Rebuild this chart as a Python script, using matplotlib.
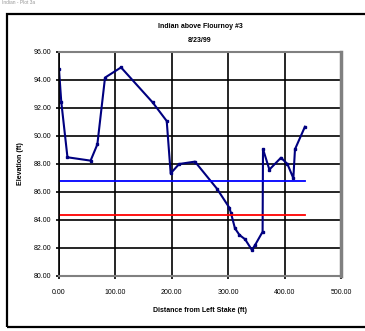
import matplotlib.pyplot as plt
from matplotlib.patches import Rectangle

# survey points: distance from left stake (ft) and elevation (ft)
distance = [0, 4, 15, 56, 68, 81.6, 110, 166, 191, 198, 213, 241, 280, 302,
            305, 312, 320, 330, 342, 347.5, 361, 361.7, 373, 393.6, 405,
            415.5, 418.4, 436]
elevation = [94.76, 92.45, 88.48, 88.24, 89.4, 94.17, 94.9, 92.4, 91.07,
             87.33, 88.0, 88.17, 86.24, 84.88, 84.48, 83.4, 82.93, 82.62,
             81.86, 82.2, 83.16, 89.07, 87.6, 88.45, 88.0, 86.98, 89.05, 90.66]

# horizontal reference levels
level_x = [0, 436]
bankfull = [86.8, 86.8]
water = [84.35, 84.35]

x_ticks = [0, 100, 200, 300, 400, 500]
y_ticks = [80, 82, 84, 86, 88, 90, 92, 94, 96]

plt.rcParams['font.family'] = ['Liberation Sans', 'DejaVu Sans']

fig = plt.figure(figsize=(3.65, 3.31), dpi=100)
W, H = 365, 331

# outer chart border
fig.patches.append(Rectangle((7 / W, 1 - 327 / H), 1.0, (327 - 14) / H,
                             transform=fig.transFigure, fill=False,
                             edgecolor='black', linewidth=1.6))
fig.text(2 / W, 1 - 3 / H, 'Indian - Plot 3a', fontsize=3.5, color='#999999',
         va='center', ha='left')

ax = fig.add_axes([59 / W, 1 - 276 / H, (341 - 59) / W, (276 - 52) / H])

ax.plot(distance, elevation, color='#000080', linewidth=1.5,
        marker='s', markersize=1.6)
ax.plot(level_x, bankfull, color='#0000FF', linewidth=1.3)
ax.plot(level_x, water, color='#FF0000', linewidth=1.3)

ax.set_xlim(0, 500)
ax.set_ylim(80, 96)
ax.set_xticks(x_ticks)
ax.set_yticks(y_ticks)
ax.set_xticklabels([f'{v:.2f}' for v in x_ticks])
ax.set_yticklabels([f'{v:.2f}' for v in y_ticks])
ax.tick_params(direction='out', length=2.5, width=1.2, labelsize=5,
               pad=3, colors='black')
ax.tick_params(axis='x', pad=7)

ax.grid(True, color='black', linewidth=1.2)
ax.set_axisbelow(True)

for side in ['top', 'bottom']:
    ax.spines[side].set_color('#808080')
    ax.spines[side].set_linewidth(1.5)
ax.spines['right'].set_color('#808080')
ax.spines['right'].set_linewidth(2.5)
ax.spines['left'].set_color('black')
ax.spines['left'].set_linewidth(1.2)

fig.text(200 / W, 1 - 27 / H, 'Indian above Flournoy #3', fontsize=5,
         fontweight='bold', ha='center', va='center')
fig.text(200 / W, 1 - 40 / H, '8/23/99', fontsize=5,
         fontweight='bold', ha='center', va='center')
fig.text(200 / W, 1 - 310 / H, 'Distance from Left Stake (ft)', fontsize=5,
         fontweight='bold', ha='center', va='center')
fig.text(21 / W, 1 - 164 / H, 'Elevation (ft)', fontsize=5,
         fontweight='bold', ha='center', va='center', rotation=90)

fig.savefig('out.png', dpi=100)
